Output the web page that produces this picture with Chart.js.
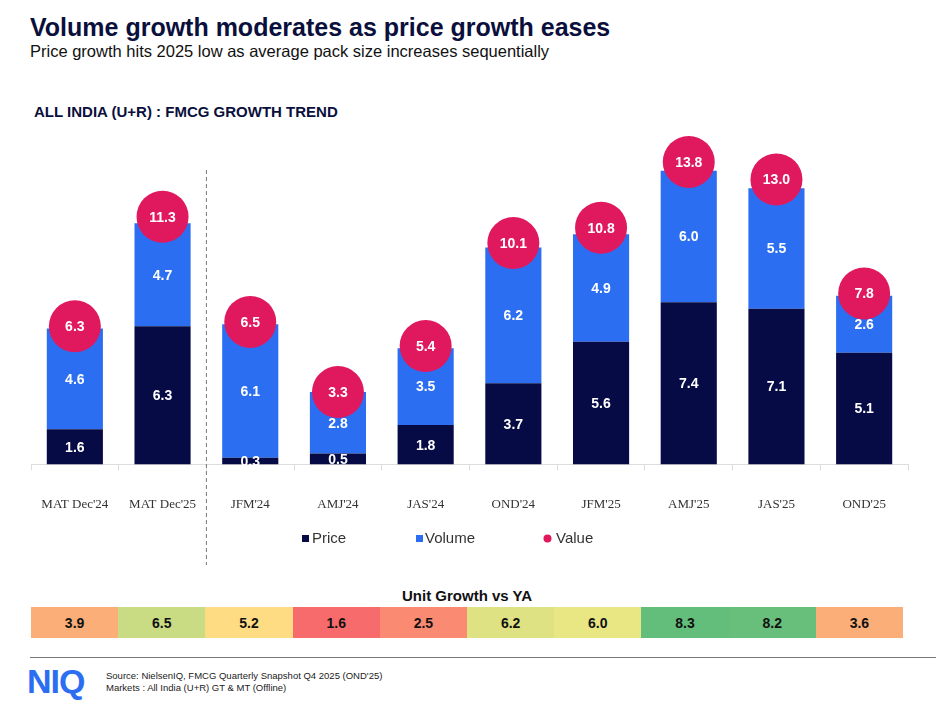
<!DOCTYPE html>
<html><head><meta charset="utf-8">
<script src="https://cdn.jsdelivr.net/npm/chart.js@4"></script>
<style>
body{margin:0;width:936px;height:705px;background:#fff;font-family:Arial,"Liberation Sans",sans-serif;position:relative;overflow:hidden}
.t{position:absolute;left:30px;top:13px;font-size:25px;font-weight:bold;color:#0A0F3C}
.s{position:absolute;left:30px;top:42px;font-size:16.5px;color:#111}
.h{position:absolute;left:34px;top:103px;font-size:15px;font-weight:bold;color:#0A0F3C}
#wrap{position:absolute;left:0;top:125px;width:936px;height:440px}
.ug{position:absolute;left:31px;width:872px;top:587px;text-align:center;font-size:15px;font-weight:bold;color:#111}
#tbl{position:absolute;left:31px;top:607px;width:872px;height:31px;display:flex}
#tbl div{flex:1;display:flex;align-items:center;justify-content:center;font-size:14px;font-weight:bold;color:#111}
.ln{position:absolute;left:30px;right:0;top:657px;border-top:1.5px solid #777}
.logo{position:absolute;left:27px;top:662px;font-size:34px;font-weight:900;color:#2B6EF2;letter-spacing:-1px}
.src{position:absolute;left:106px;top:670px;font-size:9.5px;color:#222;line-height:12px}
</style></head><body>
<div class="t">Volume growth moderates as price growth eases</div>
<div class="s">Price growth hits 2025 low as average pack size increases sequentially</div>
<div class="h">ALL INDIA (U+R) : FMCG GROWTH TREND</div>
<div id="wrap"><canvas id="c"></canvas></div>
<div class="ug">Unit Growth vs YA</div>
<div id="tbl"></div>
<div class="ln"></div>
<div class="logo">NIQ</div>
<div class="src">Source: NielsenIQ, FMCG Quarterly Snapshot Q4 2025 (OND'25)<br>Markets : All India (U+R) GT &amp; MT (Offline)</div>
<script>
const categories=["MAT Dec'24","MAT Dec'25","JFM'24","AMJ'24","JAS'24","OND'24","JFM'25","AMJ'25","JAS'25","OND'25"];
const price=[1.6,6.3,0.3,0.5,1.8,3.7,5.6,7.4,7.1,5.1];
const volume=[4.6,4.7,6.1,2.8,3.5,6.2,4.9,6.0,5.5,2.6];
const value=[6.3,11.3,6.5,3.3,5.4,10.1,10.8,13.8,13.0,7.8];
const unitGrowth=[3.9,6.5,5.2,1.6,2.5,6.2,6.0,8.3,8.2,3.6];
const unitColors=["#FBAE78","#C9DC84","#FEDC83","#F86B6C","#FA8A72","#DFE283","#E9E684","#63BE7B","#68BF7B","#FBAE78"];
const tbl=document.getElementById('tbl');
unitGrowth.forEach((v,i)=>{const d=document.createElement('div');d.style.background=unitColors[i];d.textContent=v.toFixed(1);tbl.appendChild(d);});

const labelPlugin={id:'lbl',afterDatasetsDraw(ch){
  const ctx=ch.ctx;ctx.save();
  ctx.font='bold 14px Arial';ctx.fillStyle='#fff';ctx.textAlign='center';ctx.textBaseline='middle';
  [0,1].forEach(di=>{ch.getDatasetMeta(di).data.forEach((el,i)=>{
    const y=(el.y+el.base)/2;ctx.fillText(ch.data.datasets[di].data[i].toFixed(1),el.x,y+1);});});
  ch.getDatasetMeta(2).data.forEach((el,i)=>{ctx.fillText(value[i].toFixed(1),el.x,el.y+1);});
  const m=ch.getDatasetMeta(0).data;const x=(m[1].x+m[2].x)/2;
  ctx.strokeStyle='#777';ctx.lineWidth=1;ctx.setLineDash([4,3]);
  ctx.beginPath();ctx.moveTo(x,45);ctx.lineTo(x,440);ctx.stroke();
  ctx.setLineDash([]);
  const ly=413;ctx.font='15px Arial';ctx.textAlign='left';
  const items=[[ch.data.datasets[0],302,312,'rect'],[ch.data.datasets[1],416,425,'rect'],[ch.data.datasets[2],544,556,'circle']];
  items.forEach(([d,mx,tx,s])=>{ctx.fillStyle=d.backgroundColor;
    if(s=='rect')ctx.fillRect(mx,ly-3,7,7);else{ctx.beginPath();ctx.arc(mx+3.5,ly+0.5,4,0,Math.PI*2);ctx.fill();}
    ctx.fillStyle='#333';ctx.fillText(d.label,tx,ly+1);});
  ctx.restore();}};

new Chart(document.getElementById('c'),{
  data:{labels:categories,datasets:[
    {type:'bar',label:'Price',data:price,backgroundColor:'#070B45',stack:'s',order:1},
    {type:'bar',label:'Volume',data:volume,backgroundColor:'#2B6EF2',stack:'s',order:1},
    {type:'line',label:'Value',data:value,showLine:false,clip:false,pointRadius:26,pointHoverRadius:26,pointBackgroundColor:'#E0195F',pointBorderWidth:0,backgroundColor:'#E0195F',borderColor:'#E0195F',order:0}
  ]},
  options:{responsive:true,maintainAspectRatio:false,animation:false,
    layout:{padding:{top:15,left:31,right:28,bottom:27}},
    datasets:{bar:{categoryPercentage:0.8,barPercentage:0.8}},
    plugins:{tooltip:{enabled:false},legend:{display:false}},
    scales:{
      x:{stacked:true,grid:{offset:true,drawOnChartArea:false,tickLength:6,color:'#ddd'},border:{color:'#ddd'},
        ticks:{padding:26,color:'#333',font:{family:'"Liberation Serif",serif',size:13}}},
      y:{stacked:true,display:false,min:0,max:14.3}
    }},
  plugins:[labelPlugin]
});
</script></body></html>
